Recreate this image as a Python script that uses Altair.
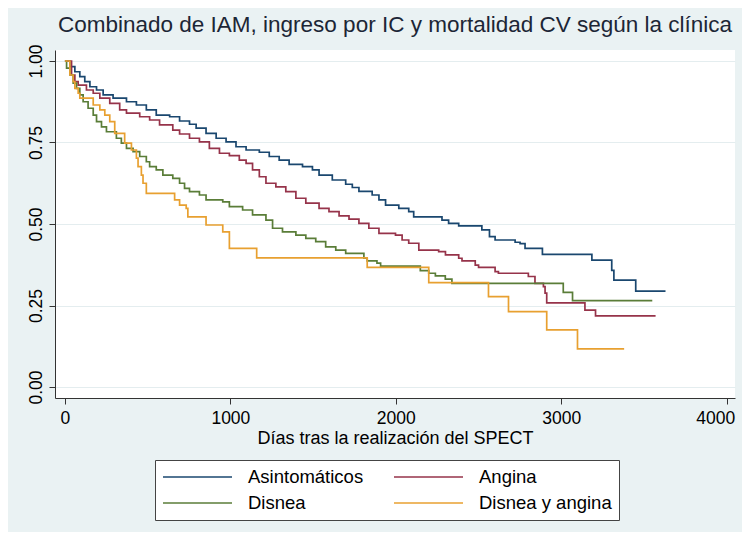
import altair as alt
import pandas as pd

# ---- data (Kaplan-Meier step curves) ----
# legend order (column-major fill): col 1 = Asintomáticos, Disnea ; col 2 = Angina, Disnea y angina
groups = ["Asintomáticos", "Disnea", "Angina", "Disnea y angina"]
colors = ["#1a476f", "#5a7d38", "#96334a", "#e8a030"]

asin_days = [0, 30, 60, 90, 120, 151, 191, 231, 291, 372, 432, 492, 552, 633, 693, 753, 793, 853, 914,
             974, 1034, 1095, 1175, 1235, 1295, 1355, 1436, 1496, 1536, 1616, 1697, 1737, 1777, 1857,
             1898, 1938, 2018, 2078, 2108, 2279, 2319, 2380, 2520, 2566, 2600, 2721, 2751, 2781, 2886,
             3185, 3305, 3318, 3450, 3630]
asin_surv = [1.0, 0.983, 0.967, 0.952, 0.937, 0.921, 0.911, 0.896, 0.886, 0.875, 0.865, 0.850, 0.834,
             0.829, 0.816, 0.806, 0.794, 0.778, 0.763, 0.752, 0.737, 0.727, 0.720, 0.707, 0.696, 0.683,
             0.676, 0.666, 0.650, 0.635, 0.622, 0.612, 0.600, 0.589, 0.574, 0.558, 0.548, 0.538, 0.522,
             0.512, 0.502, 0.494, 0.482, 0.461, 0.451, 0.444, 0.440, 0.425, 0.407, 0.389, 0.358, 0.328,
             0.294, 0.294]

ang_days = [0, 40, 60, 80, 130, 171, 211, 271, 331, 372, 452, 512, 572, 652, 693, 753, 813, 873, 934,
            994, 1054, 1095, 1134, 1175, 1215, 1275, 1335, 1396, 1456, 1536, 1596, 1657, 1717, 1777,
            1837, 1898, 1998, 2038, 2078, 2139, 2259, 2300, 2380, 2400, 2480, 2500, 2600, 2620, 2801,
            2841, 2892, 2902, 2912, 3143, 3207, 3570]
ang_surv = [1.0, 0.957, 0.937, 0.926, 0.911, 0.901, 0.886, 0.870, 0.850, 0.840, 0.829, 0.819, 0.804,
            0.788, 0.776, 0.763, 0.752, 0.732, 0.717, 0.710, 0.696, 0.686, 0.666, 0.645, 0.625, 0.614,
            0.599, 0.579, 0.564, 0.548, 0.538, 0.525, 0.515, 0.502, 0.487, 0.471, 0.466, 0.451, 0.441,
            0.420, 0.415, 0.405, 0.395, 0.387, 0.374, 0.367, 0.354, 0.349, 0.339, 0.318, 0.308, 0.288,
            0.258, 0.236, 0.218, 0.218]

dis_days = [0, 10, 30, 50, 70, 90, 110, 140, 171, 191, 221, 251, 311, 341, 372, 412, 452, 492, 512,
            552, 592, 652, 693, 723, 753, 813, 853, 954, 994, 1074, 1134, 1215, 1255, 1315, 1396, 1456,
            1516, 1576, 1637, 1697, 1807, 1827, 1886, 1908, 2148, 2199, 2239, 2299, 2339, 3012, 3068,
            3550]
dis_surv = [1.0, 0.978, 0.957, 0.932, 0.916, 0.896, 0.875, 0.855, 0.834, 0.814, 0.798, 0.783, 0.763,
            0.748, 0.732, 0.722, 0.707, 0.691, 0.676, 0.666, 0.650, 0.640, 0.625, 0.609, 0.599, 0.589,
            0.574, 0.568, 0.553, 0.543, 0.528, 0.512, 0.487, 0.476, 0.466, 0.456, 0.446, 0.430, 0.420,
            0.410, 0.395, 0.387, 0.380, 0.371, 0.357, 0.349, 0.341, 0.331, 0.318, 0.290, 0.265, 0.265]

dya_days = [0, 30, 50, 60, 80, 90, 171, 211, 241, 271, 301, 361, 402, 432, 442, 462, 472, 492, 663,
            693, 733, 743, 853, 954, 994, 1159, 1827, 2199, 2560, 2681, 2912, 3098, 3380]
dya_surv = [1.0, 0.957, 0.937, 0.916, 0.901, 0.886, 0.865, 0.850, 0.834, 0.814, 0.778, 0.748, 0.727,
            0.702, 0.676, 0.650, 0.625, 0.594, 0.574, 0.558, 0.548, 0.522, 0.497, 0.476, 0.425, 0.396,
            0.367, 0.320, 0.277, 0.231, 0.175, 0.117, 0.117]

x_ticks = [0, 1000, 2000, 3000, 4000]
y_ticks = [0.0, 0.25, 0.5, 0.75, 1.0]

rows = []
for g, ds, ss in [("Asintomáticos", asin_days, asin_surv), ("Angina", ang_days, ang_surv),
                  ("Disnea", dis_days, dis_surv), ("Disnea y angina", dya_days, dya_surv)]:
    for i, (d, s) in enumerate(zip(ds, ss)):
        rows.append({"grupo": g, "dias": d, "surv": s, "orden": i})
df = pd.DataFrame(rows)

FONT = "Liberation Sans"

chart = alt.Chart(df).mark_line(interpolate="step-after", strokeWidth=1.7).encode(
    x=alt.X("dias:Q",
            scale=alt.Scale(domain=[-60, 4050], nice=False, zero=False),
            axis=alt.Axis(values=x_ticks, format="d", grid=False,
                          title="Días tras la realización del SPECT",
                          titleFontSize=18, titleFontWeight="normal", titleFont=FONT,
                          titleColor="#000000", titlePadding=3,
                          labelFontSize=17.5, labelFont=FONT, labelColor="#000000",
                          labelPadding=5, labelFlush=False,
                          labelAlign={"condition": {"test": "datum.value == 4000", "value": "right"},
                                      "value": "center"},
                          labelOffset={"condition": {"test": "datum.value == 4000", "value": 8},
                                       "value": 0},
                          tickSize=6, tickColor="#333333", domainColor="#333333")),
    y=alt.Y("surv:Q",
            scale=alt.Scale(domain=[-0.0337, 1.0337], nice=False, zero=False),
            axis=alt.Axis(values=y_ticks, format=".2f", grid=True, title=None,
                          gridColor="#E4EDEF", gridWidth=1.2,
                          labelAngle=270, labelAlign="center", labelBaseline="bottom",
                          labelFontSize=17.5, labelFont=FONT, labelColor="#000000",
                          labelPadding=4, labelFlush=False,
                          tickSize=6, tickColor="#333333", domainColor="#333333")),
    color=alt.Color("grupo:N",
                    scale=alt.Scale(domain=groups, range=colors),
                    legend=alt.Legend(title=None, orient="none", legendX=100, legendY=410,
                                      columns=2, symbolType="stroke", symbolSize=4761,
                                      symbolStrokeWidth=1.5, clipHeight=20, labelOffset=15,
                                      labelFontSize=18.5, labelFont=FONT, labelColor="#000000",
                                      labelLimit=300, columnPadding=29, rowPadding=6,
                                      padding=7, fillColor="#FFFFFF", strokeColor="#444444")),
    order=alt.Order("orden:Q"),
    detail="grupo:N",
).properties(
    width=680,
    height=348,
    title=alt.TitleParams(text="Combinado de IAM, ingreso por IC y mortalidad CV según la clínica",
                          fontSize=22.5, fontWeight="normal", font=FONT, color="#1c2636",
                          anchor="middle", offset=7),
    autosize=alt.AutoSizeParams(type="none"),
    padding={"left": 47, "top": 42, "right": 7, "bottom": 134},
    background="#EAF2F3",
).configure_view(fill="#FFFFFF", stroke=None)

chart.save("out.html", embed_options={"renderer": "svg", "actions": False})
